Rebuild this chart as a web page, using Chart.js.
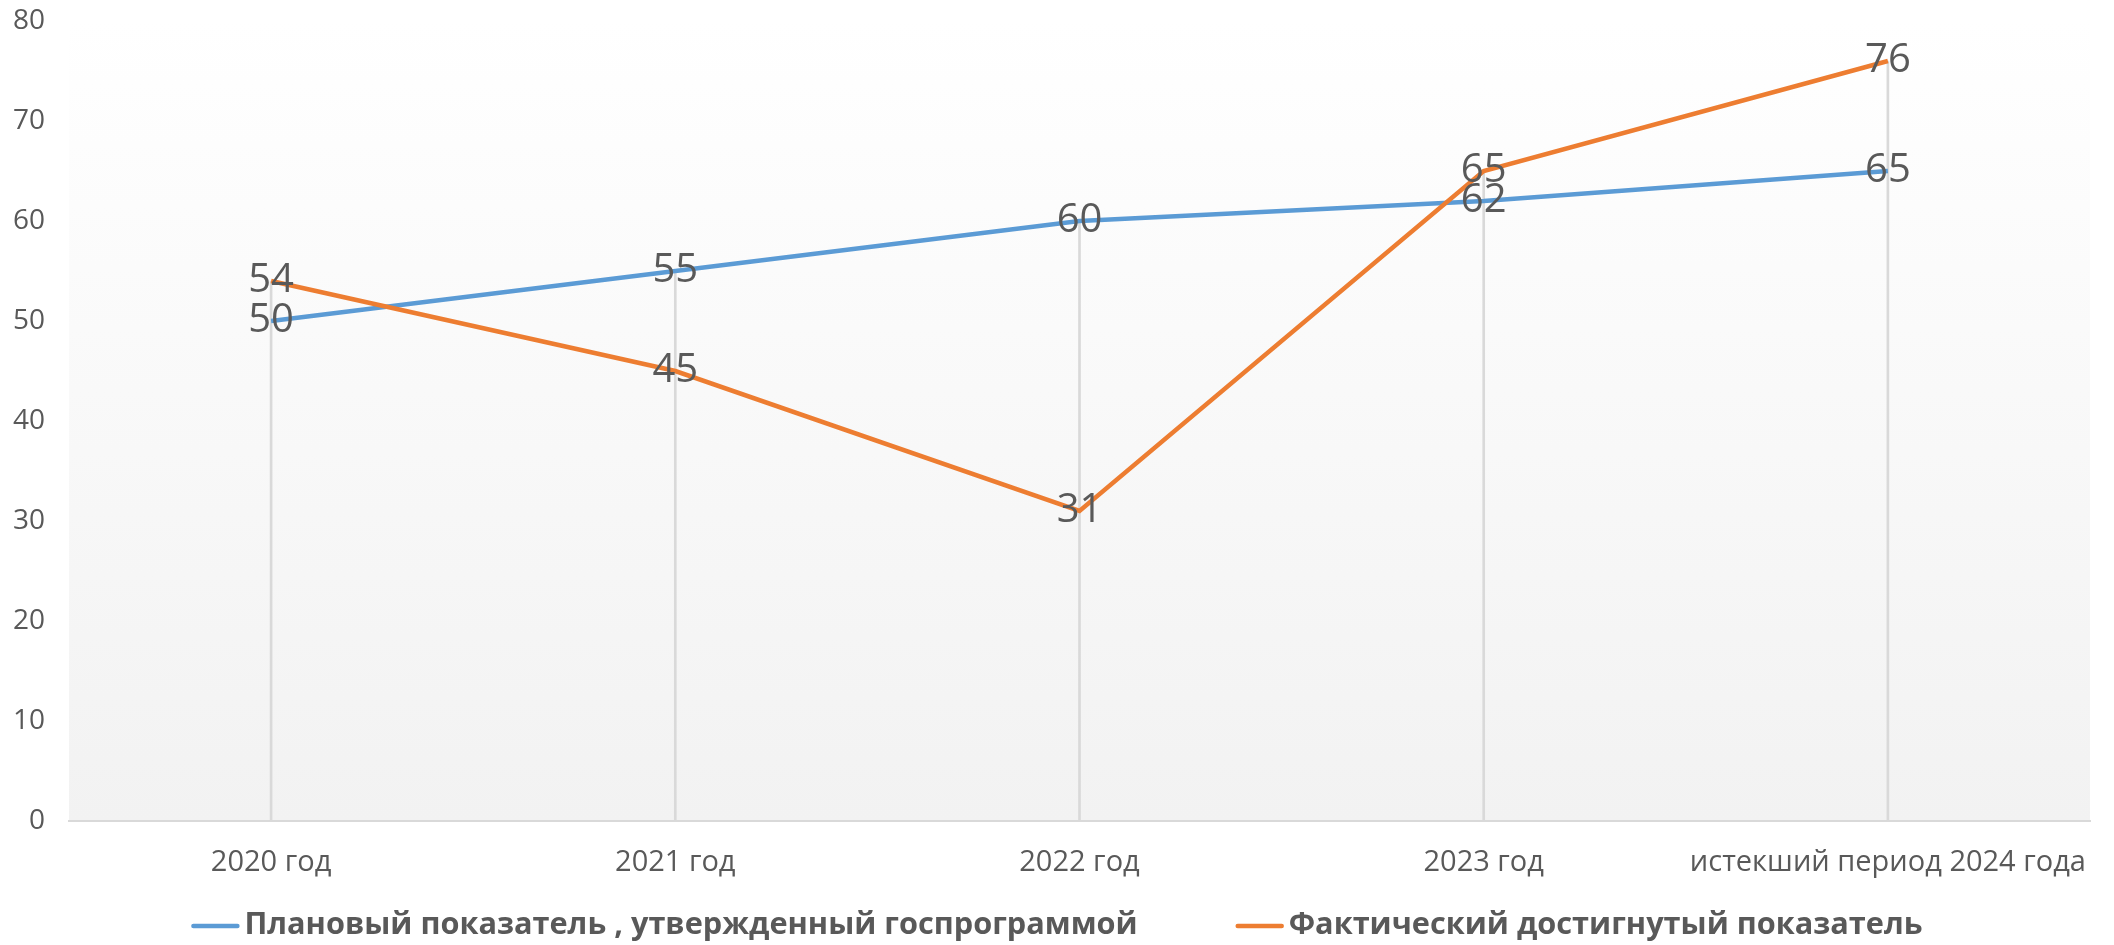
<!DOCTYPE html>
<html>
<head>
<meta charset="utf-8">
<script src="https://cdn.jsdelivr.net/npm/chart.js@4.4.1/dist/chart.umd.min.js"></script>
<style>
  html, body { margin: 0; padding: 0; background: #fff; }
  #wrap { width: 2114px; height: 945px; position: relative; }
</style>
</head>
<body>
<div id="wrap"><canvas id="lineChart"></canvas></div>
<script>
const categories = ['2020 год', '2021 год', '2022 год', '2023 год', 'истекший период 2024 года'];
const planValues = [50, 55, 60, 62, 65];
const factValues = [54, 45, 31, 65, 76];
const yTicks = [0, 10, 20, 30, 40, 50, 60, 70, 80];

const planLabel = 'Плановый показатель , утвержденный госпрограммой';
const factLabel = 'Фактический достигнутый показатель';

// drop lines go from the higher of the two points down to the axis
const dropValues = planValues.map((v, i) => Math.max(v, factValues[i]));

const textColor = '#595959';

const plotBackground = {
    id: 'plotBackground',
    beforeDraw(chart) {
        const { ctx, chartArea } = chart;
        if (!chartArea) return;
        const g = ctx.createLinearGradient(0, chartArea.top, 0, chartArea.bottom);
        g.addColorStop(0, '#ffffff');
        g.addColorStop(1, '#f2f2f2');
        ctx.save();
        ctx.fillStyle = g;
        ctx.fillRect(chartArea.left, chartArea.top, chartArea.right - chartArea.left, chartArea.bottom - chartArea.top);
        ctx.restore();
    }
};

const pointLabels = {
    id: 'pointLabels',
    afterDatasetsDraw(chart) {
        const ctx = chart.ctx;
        ctx.save();
        ctx.font = '40px "Open Sans"';
        ctx.fillStyle = textColor;
        ctx.textAlign = 'center';
        ctx.textBaseline = 'middle';
        chart.data.datasets.forEach((ds, di) => {
            if (ds.type !== 'line') return;
            const meta = chart.getDatasetMeta(di);
            meta.data.forEach((pt, i) => {
                ctx.fillText(String(ds.data[i]), pt.x, pt.y);
            });
        });
        ctx.restore();
    }
};

// legend drawn by hand so the gap between items and the text spacing match
const bottomLegend = {
    id: 'bottomLegend',
    afterDraw(chart) {
        const ctx = chart.ctx;
        const items = chart.data.datasets.filter(ds => ds.type === 'line');
        const lineLen = 48, textGap = 5, itemGap = 98, y = 926;
        ctx.save();
        ctx.font = 'bold 30.7px "Open Sans"';
        const widths = items.map(ds => ctx.measureText(ds.label).width);
        let total = widths.reduce((a, w) => a + lineLen + textGap + w, 0) + itemGap * (items.length - 1);
        let x = (chart.width - total) / 2;
        items.forEach((ds, i) => {
            ctx.strokeStyle = ds.borderColor;
            ctx.lineWidth = 4.5;
            ctx.lineCap = 'round';
            ctx.beginPath();
            ctx.moveTo(x + 2, y);
            ctx.lineTo(x + lineLen - 2, y);
            ctx.stroke();
            ctx.fillStyle = textColor;
            ctx.textAlign = 'left';
            ctx.textBaseline = 'middle';
            ctx.fillText(ds.label, x + lineLen + textGap, y - 1);
            x += lineLen + textGap + widths[i] + itemGap;
        });
        ctx.restore();
    }
};

const ctx = document.getElementById('lineChart').getContext('2d');
new Chart(ctx, {
    data: {
        labels: categories,
        datasets: [{
            type: 'line',
            label: planLabel,
            data: planValues,
            borderColor: '#5b9bd5',
            backgroundColor: '#5b9bd5',
            borderWidth: 4.5,
            pointRadius: 0,
            tension: 0,
            order: 1
        }, {
            type: 'line',
            label: factLabel,
            data: factValues,
            borderColor: '#ed7d31',
            backgroundColor: '#ed7d31',
            borderWidth: 4.5,
            pointRadius: 0,
            tension: 0,
            order: 0
        }, {
            type: 'bar',
            label: 'drop',
            data: dropValues,
            backgroundColor: '#d9d9d9',
            barThickness: 2,
            order: 5
        }]
    },
    options: {
        responsive: true,
        maintainAspectRatio: false,
        animation: false,
        layout: {
            padding: { left: 0, right: 24, top: 21, bottom: 66 }
        },
        plugins: {
            tooltip: { enabled: false },
            legend: { display: false }
        },
        scales: {
            x: {
                grid: { display: false },
                border: { display: true, color: '#d9d9d9', width: 2 },
                ticks: {
                    color: textColor,
                    padding: 16,
                    maxRotation: 0,
                    autoSkip: false,
                    font: { family: 'Open Sans', size: 29 }
                },
                afterFit: scale => {
                    scale.height = 58;
                    scale.paddingLeft = 0;
                    scale.paddingRight = 0;
                }
            },
            y: {
                min: 0,
                max: 80,
                grid: { display: false },
                border: { display: false },
                afterBuildTicks: scale => { scale.ticks = yTicks.map(v => ({ value: v })); },
                ticks: {
                    color: textColor,
                    padding: 16,
                    font: { family: 'Open Sans', size: 28 }
                },
                afterFit: scale => {
                    scale.width = 69;
                    scale.paddingTop = 0;
                    scale.paddingBottom = 0;
                }
            }
        }
    },
    plugins: [plotBackground, pointLabels, bottomLegend]
});
</script>
</body>
</html>
